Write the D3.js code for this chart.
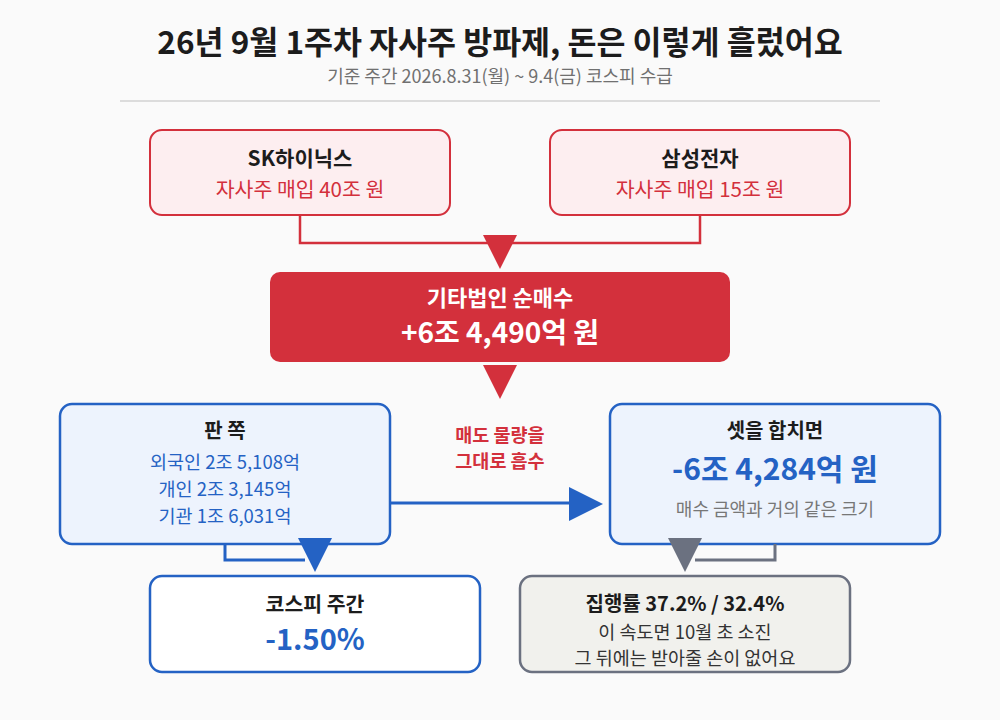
<!DOCTYPE html>
<html>
<head>
<meta charset="utf-8">
<script src="https://cdn.jsdelivr.net/npm/d3@7"></script>
<style>
  html, body { margin: 0; padding: 0; background: #fafafa; }
  svg { display: block; font-family: "Noto Sans CJK KR", "Noto Sans", sans-serif; }
</style>
</head>
<body>
<div id="chart"></div>
<script>
const title = '26년 9월 1주차 자사주 방파제, 돈은 이렇게 흘렀어요';
const subtitle = '기준 주간 2026.8.31(월) ~ 9.4(금) 코스피 수급';

// buyers: company, buyback amount (조 원)
const buyers = ['SK하이닉스', '삼성전자'];
const buybackJo = [40, 15];

// net buying of other corporations (억 원)
const corpLabel = '기타법인 순매수';
const corpNetEok = 64490;

// sellers (억 원)
const sellers = ['외국인', '개인', '기관'];
const sellEok = [25108, 23145, 16031];

const absorbLabel = ['매도 물량을', '그대로 흡수'];
const sumLabel = '셋을 합치면';
const sumNote = '매수 금액과 거의 같은 크기';

const kospiLabel = '코스피 주간';
const kospiChange = -1.50;

const execLabel = '집행률';
const execRates = [37.2, 32.4];
const execNotes = ['이 속도면 10월 초 소진', '그 뒤에는 받아줄 손이 없어요'];

const W = 1000, H = 720;
const RED = '#d3303c', RED_BG = '#fdeef0', BLUE = '#2462c4', BLUE_BG = '#edf3fd';
const GRAY = '#6b7180', GRAY_BG = '#f1f1ed', INK = '#1c1c1c';

function fmtEok(v) {
  const jo = Math.floor(Math.abs(v) / 10000);
  const eok = Math.abs(v) % 10000;
  return `${jo}조 ${d3.format(',')(eok)}억`;
}

const svg = d3.select('#chart').append('svg')
  .attr('width', W).attr('height', H);

svg.append('rect').attr('width', W).attr('height', H).attr('fill', '#fafafa');

svg.append('text')
  .attr('x', W / 2).attr('y', 54)
  .attr('text-anchor', 'middle')
  .attr('font-size', 31.5).attr('font-weight', 700).attr('fill', INK)
  .text(title);

svg.append('text')
  .attr('x', W / 2).attr('y', 83)
  .attr('text-anchor', 'middle')
  .attr('font-size', 18).attr('fill', '#707070')
  .text(subtitle);

svg.append('line')
  .attr('x1', 120).attr('x2', 880).attr('y1', 101).attr('y2', 101)
  .attr('stroke', '#dcdcdc').attr('stroke-width', 2);

function box(x, y, w, h, fill, stroke, sw) {
  svg.append('rect')
    .attr('x', x).attr('y', y).attr('width', w).attr('height', h)
    .attr('rx', 12)
    .attr('fill', fill).attr('stroke', stroke).attr('stroke-width', sw || 2);
}

function label(x, y, str, size, color, weight) {
  svg.append('text')
    .attr('x', x).attr('y', y)
    .attr('text-anchor', 'middle')
    .attr('font-size', size).attr('font-weight', weight || 400)
    .attr('fill', color)
    .text(str);
}

function tri(cx, cy, size, color, dir) {
  const h = size, w = size / 2;
  const pts = dir === 'right'
    ? [[cx - h / 2, cy - w], [cx + h / 2, cy], [cx - h / 2, cy + w]]
    : [[cx - w, cy - h / 2], [cx + w, cy - h / 2], [cx, cy + h / 2]];
  svg.append('path')
    .attr('d', d3.line()(pts) + 'Z')
    .attr('fill', color);
}

function path(pts, color, sw) {
  svg.append('path')
    .attr('d', d3.line()(pts))
    .attr('fill', 'none').attr('stroke', color).attr('stroke-width', sw || 2.5);
}

// top row: buyers
const topX = d3.scalePoint().domain(buyers).range([300, 700]);
const boxW = 300;

path([[topX(buyers[0]), 215], [topX(buyers[0]), 243], [topX(buyers[1]), 243], [topX(buyers[1]), 215]], RED);

buyers.forEach((b, i) => {
  const cx = topX(b);
  box(cx - boxW / 2, 130, boxW, 85, RED_BG, RED);
  label(cx, 166, b, 21, INK, 700);
  label(cx, 197, `자사주 매입 ${buybackJo[i]}조 원`, 20.5, RED, 400);
});

tri(500, 252, 34, RED, 'down');

// middle: corporations
svg.append('rect')
  .attr('x', 270).attr('y', 272).attr('width', 460).attr('height', 90)
  .attr('rx', 10).attr('fill', RED);
label(500, 306, corpLabel, 22, '#fff', 700);
label(500, 343, `+${fmtEok(corpNetEok)} 원`, 28, '#fff', 700);

tri(500, 382, 34, RED, 'down');

absorbLabel.forEach((t, i) => label(500, 442 + i * 26, t, 18.5, RED, 700));

// sellers box
box(60, 404, 330, 140, BLUE_BG, BLUE, 2.5);
label(225, 438, '판 쪽', 20, INK, 700);
sellers.forEach((s, i) => {
  label(225, 469 + i * 27, `${s} ${fmtEok(sellEok[i])}`, 18.5, BLUE, 400);
});

// arrow to sum
path([[390, 503], [575, 503]], BLUE, 3);
tri(586, 504, 34, BLUE, 'right');

// sum box
const sumEok = d3.sum(sellEok);
box(610, 404, 330, 140, BLUE_BG, BLUE, 2.5);
label(775, 438, sumLabel, 20, INK, 700);
label(775, 480, `-${fmtEok(sumEok)} 원`, 30, BLUE, 700);
label(775, 516, sumNote, 18, '#777', 400);

// kospi
path([[225, 544], [225, 560], [305, 560]], BLUE, 3);
tri(315, 555, 34, BLUE, 'down');
box(150, 576, 330, 96, '#fff', BLUE, 2.5);
label(315, 612, kospiLabel, 20.5, INK, 700);
label(315, 650, d3.format('.2f')(kospiChange).replace('−', '-') + '%', 29, BLUE, 700);

// execution
path([[775, 544], [775, 560], [695, 560]], GRAY, 3);
tri(685, 555, 34, GRAY, 'down');
box(520, 576, 330, 96, GRAY_BG, GRAY, 2.5);
label(685, 611, `${execLabel} ${execRates.map(r => r.toFixed(1) + '%').join(' / ')}`, 20, INK, 700);
execNotes.forEach((t, i) => label(685, 639 + i * 26, t, 18.5, '#333', 400));
</script>
</body>
</html>
